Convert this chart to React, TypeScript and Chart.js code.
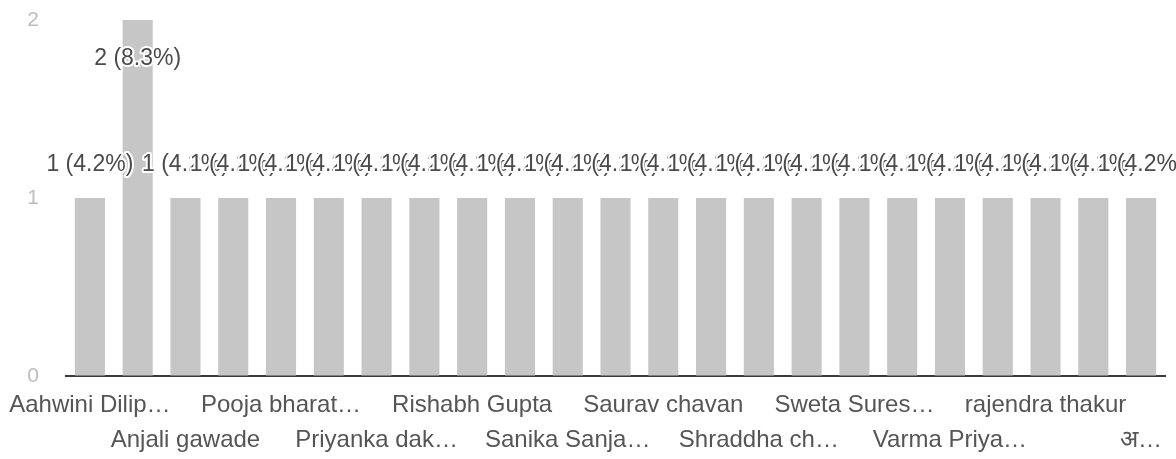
import React, { useEffect, useRef } from "react";
import { Chart, registerables } from "chart.js";

Chart.register(...registerables);

// Categories (names hidden in the reference between shown labels are left blank)
const categories: string[] = [
  "Aahwini Dilip…", "", "Anjali gawade", "", "Pooja bharat…", "",
  "Priyanka dak…", "", "Rishabh Gupta", "", "Sanika Sanja…", "",
  "Saurav chavan", "", "Shraddha ch…", "", "Sweta Sures…", "",
  "Varma Priya…", "", "rajendra thakur", "", "अ…",
];

const counts: number[] = [
  1, 2, 1, 1, 1, 1, 1, 1, 1, 1, 1, 1, 1, 1, 1, 1, 1, 1, 1, 1, 1, 1, 1,
];

const yTicks: number[] = [0, 1, 2];

const FONT = "'Liberation Sans', Arial, sans-serif";

const labelPlugin = {
  id: "barValueLabels",
  afterDatasetsDraw(chart: any) {
    const { ctx } = chart;
    const meta = chart.getDatasetMeta(0);
    const data = chart.data.datasets[0].data as number[];
    const total = data.reduce((a, b) => a + b, 0);
    ctx.save();
    ctx.font = `23px ${FONT}`;
    ctx.textAlign = "center";
    ctx.textBaseline = "middle";
    ctx.lineJoin = "round";
    meta.data.forEach((bar: any, i: number) => {
      const v = data[i];
      const text = `${v} (${((v / total) * 100).toFixed(1)}%)`;
      let y = bar.y - 33;
      if (y - 14 < 0) y = bar.y + 39;
      ctx.lineWidth = 4;
      ctx.strokeStyle = "#ffffff";
      ctx.strokeText(text, bar.x, y);
      ctx.fillStyle = "#4a4a4a";
      ctx.fillText(text, bar.x, y);
    });
    ctx.restore();
  },
};

export default function App() {
  const ref = useRef<HTMLCanvasElement | null>(null);

  useEffect(() => {
    if (!ref.current) return;
    const chart = new Chart(ref.current, {
      type: "bar",
      data: {
        labels: categories,
        datasets: [
          {
            data: counts,
            backgroundColor: "#c6c6c6",
            borderWidth: 0,
            categoryPercentage: 1,
            barPercentage: 0.63,
          },
        ],
      },
      options: {
        responsive: false,
        animation: false,
        layout: { padding: { top: 20, right: 11, left: 0, bottom: 0 } },
        plugins: {
          legend: { display: false },
          tooltip: { enabled: false },
        },
        scales: {
          x: {
            grid: {
              display: true,
              drawOnChartArea: false,
              drawTicks: true,
              tickLength: 12,
              color: "rgba(0,0,0,0)",
            },
            border: { display: true, color: "#3a3a3a", width: 2 },
            ticks: {
              autoSkip: false,
              maxRotation: 0,
              minRotation: 0,
              padding: 0,
              color: "#555555",
              font: { family: FONT, size: 24, lineHeight: 1.46 },
              callback: (_v: any, i: number) => {
                if (i % 2 === 1) return "";
                const name = categories[i];
                return (i / 2) % 2 === 0 ? name : ["", name];
              },
            },
            afterFit: (scale: any) => {
              scale.height = 83;
            },
          },
          y: {
            min: 0,
            max: 2,
            grid: {
              display: true,
              drawOnChartArea: false,
              drawTicks: true,
              tickLength: 24,
              color: "rgba(0,0,0,0)",
            },
            border: { display: false },
            afterBuildTicks: (scale: any) => {
              scale.ticks = yTicks.map((v) => ({ value: v }));
            },
            ticks: {
              padding: 3,
              color: "#bdbdbd",
              font: { family: FONT, size: 21 },
            },
            afterFit: (scale: any) => {
              scale.width = 66;
            },
          },
        },
      },
      plugins: [labelPlugin],
    });
    return () => chart.destroy();
  }, []);

  return (
    <div style={{ position: "absolute", left: 0, top: 0, width: 1176, height: 459, background: "#fff" }}>
      <canvas ref={ref} width={1176} height={459} />
    </div>
  );
}
